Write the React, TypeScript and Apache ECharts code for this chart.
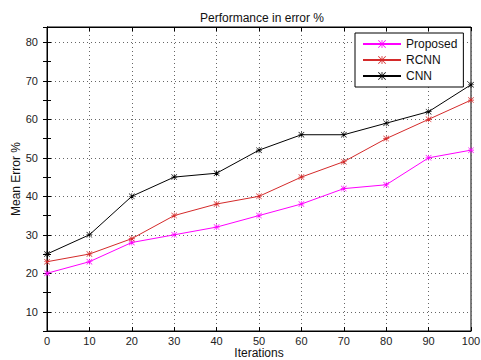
import React, { useEffect, useRef } from "react";
import * as echarts from "echarts";

const iterations = [0, 10, 20, 30, 40, 50, 60, 70, 80, 90, 100];
const proposed = [20, 23, 28, 30, 32, 35, 38, 42, 43, 50, 52];
const rcnn = [23, 25, 29, 35, 38, 40, 45, 49, 55, 60, 65];
const cnn = [25, 30, 40, 45, 46, 52, 56, 56, 59, 62, 69];
const seriesNames = ["Proposed", "RCNN", "CNN"];

const STAR =
  "path://M4.5,0L5.5,0L5.5,10L4.5,10Z M0,4.5L10,4.5L10,5.5L0,5.5Z M0.7,0L10,9.3L9.3,10L0,0.7Z M9.3,0L10,0.7L0.7,10L0,9.3Z";

export default function App() {
  const ref = useRef<HTMLDivElement>(null);
  useEffect(() => {
    const chart = echarts.init(ref.current!, null, { renderer: "svg" });
    const font = "Liberation Sans, Arial, sans-serif";
    const mk = (name: string, data: number[], color: string) => ({
      name,
      type: "line",
      data: iterations.map((x, i) => [x, data[i]]),
      symbol: STAR,
      symbolSize: 6,
      showSymbol: true,
      lineStyle: { color, width: 1 },
      itemStyle: { color },
      emphasis: { disabled: true },
    });
    const tens = (_i: number, v: any) => Number(v) % 10 === 0;
    chart.setOption({
      animation: false,
      backgroundColor: "#fff",
      textStyle: { fontFamily: font },
      title: {
        text: "Performance in error %",
        left: 195,
        top: 7,
        textStyle: { fontSize: 12, fontWeight: "normal", color: "#111", fontFamily: font },
      },
      legend: {
        data: seriesNames,
        orient: "vertical",
        left: 355,
        top: 33,
        padding: [5, 6, 5, 7],
        itemGap: 4,
        itemWidth: 38,
        itemHeight: 10,
        backgroundColor: "#fff",
        borderColor: "#000",
        borderWidth: 1,
        borderRadius: 0,
        textStyle: { fontSize: 12, color: "#111", fontFamily: font, height: 12, lineHeight: 12 },
      },
      grid: {
        left: 47,
        right: 10,
        top: 27,
        bottom: 29,
        containLabel: false,
        outerBoundsMode: "none",
        show: true,
        borderColor: "#000",
        borderWidth: 1,
        backgroundColor: "#fff",
      },
      xAxis: [
        {
          type: "value",
          min: 0,
          max: 100,
          interval: 10,
          name: "Iterations",
          nameLocation: "middle",
          nameGap: 16,
          nameMoveOverlap: false,
          nameTextStyle: { fontSize: 12, color: "#111", fontFamily: font, lineHeight: 12 },
          axisLine: { show: true, lineStyle: { color: "#000" } },
          axisTick: { show: true, inside: true, length: 4, lineStyle: { color: "#000" } },
          axisLabel: { fontSize: 11, color: "#222", margin: 4, lineHeight: 11, fontFamily: font },
          splitLine: { show: true, lineStyle: { color: "#666", type: [1, 3] as any, width: 1 } },
        },
        {
          type: "value",
          position: "top",
          min: 0,
          max: 100,
          interval: 10,
          axisLine: { show: true, lineStyle: { color: "#000" } },
          axisTick: { show: true, inside: true, length: 4, lineStyle: { color: "#000" } },
          axisLabel: { show: false },
          splitLine: { show: false },
        },
      ],
      yAxis: [
        {
          type: "value",
          min: 5,
          max: 84,
          interval: 5,
          name: "Mean Error %",
          nameLocation: "middle",
          nameGap: 25,
          nameMoveOverlap: false,
          nameTextStyle: { fontSize: 12, color: "#111", fontFamily: font },
          axisLine: { show: true, lineStyle: { color: "#000" } },
          axisTick: { show: true, inside: true, length: 4, interval: tens, lineStyle: { color: "#000" } },
          axisLabel: {
            fontSize: 11,
            color: "#222",
            margin: 9,
            fontFamily: font,
            formatter: (v: number) => (v % 10 === 0 ? String(v) : ""),
          },
          splitLine: {
            show: true,
            lineStyle: { color: ["rgba(0,0,0,0)", "#666"], type: [1, 3] as any, width: 1 },
          },
        },
        {
          type: "value",
          position: "right",
          min: 5,
          max: 84,
          interval: 5,
          axisLine: { show: true, lineStyle: { color: "#000" } },
          axisTick: { show: true, inside: true, length: 4, interval: tens, lineStyle: { color: "#000" } },
          axisLabel: { show: false },
          splitLine: { show: false },
        },
      ],
      series: [
        mk("Proposed", proposed, "#ff00ff"),
        mk("RCNN", rcnn, "#d42a2a"),
        mk("CNN", cnn, "#000000"),
      ],
    });
    return () => chart.dispose();
  }, []);
  return <div ref={ref} style={{ width: 481, height: 360, position: "absolute", left: 0, top: 0 }} />;
}
